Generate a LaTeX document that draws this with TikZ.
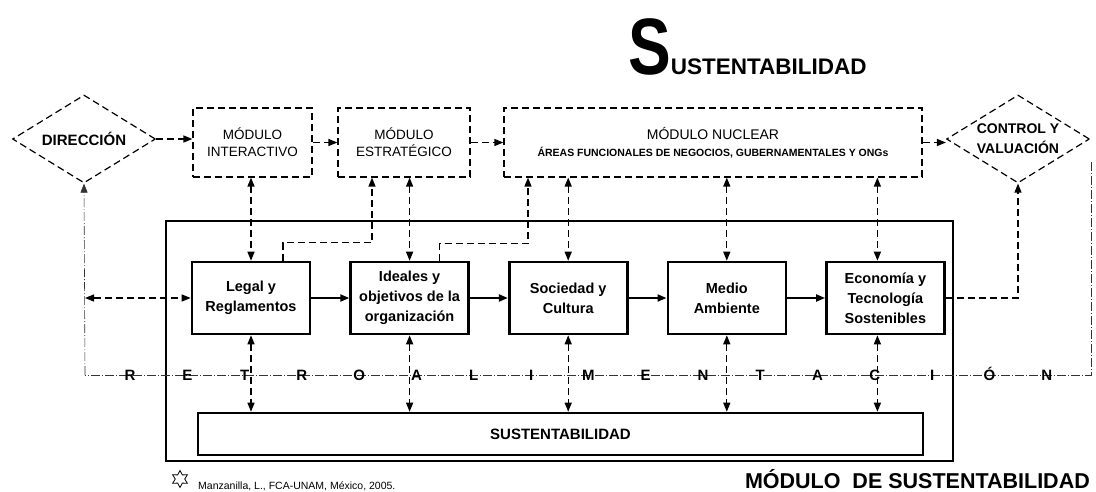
\documentclass[tikz,border=0pt]{standalone}
\usepackage{fontspec}
\setmainfont{Liberation Sans}
\usepackage{graphicx}
\usepackage{tikz}
\usetikzlibrary{arrows.meta,positioning,shapes.geometric}

\begin{document}
\begin{tikzpicture}[
    x=1pt, y=-1pt,
    box/.style={draw, line width=2.6pt, minimum width=118pt, minimum height=72pt, align=center, inner sep=2pt, font=\bfseries\fontsize{14.5}{20}\selectfont},
    mod/.style={draw, line width=1.2pt, dash pattern=on 7pt off 4pt, minimum height=69pt, align=center, font=\fontsize{13.5}{17}\selectfont},
    dmd/.style={diamond, draw, line width=1.2pt, dash pattern=on 7pt off 4pt, minimum width=143pt, minimum height=88pt, inner sep=0pt},
    dsh/.style={line width=1.3pt, dash pattern=on 7pt off 4pt},
    arr/.style={-{Triangle[length=9pt,width=7pt]}},
    darr/.style={dsh, {Triangle[length=9pt,width=7pt]}-{Triangle[length=9pt,width=7pt]}},
    flow/.style={line width=2pt, -{Triangle[length=9pt,width=7pt]}},
    retro/.style={line width=0.6pt, black!80, dash pattern=on 9pt off 2pt on 1pt off 2pt},
    letter/.style={font=\bfseries\fontsize{15}{15}\selectfont, inner sep=0pt, text height=11pt, text depth=0pt},
    node distance=38pt
  ]
  \useasboundingbox (0,0) rectangle (1096,491);

  % Title
  \node[anchor=base west, inner sep=0pt, font=\bfseries] (title) at (628,74)
    {\scalebox{0.8}[1]{\fontsize{80}{80}\selectfont S}\fontsize{22.5}{23}\selectfont USTENTABILIDAD};

  % Upper modules
  \node[dmd] (dir) at (84,139) {};
  \node[font=\bfseries\fontsize{15}{18}\selectfont] (dirtext) at (dir) {DIRECCIÓN};
  \node[mod, minimum width=119pt] (inter) at (252.5,142.5) {MÓDULO\\INTERACTIVO};
  \node[mod, minimum width=132pt] (estr) at (404,142.5) {MÓDULO\\ESTRATÉGICO};
  \node[mod, minimum width=418pt] (nuc) at (713,142.5)
    {{\fontsize{14}{20}\selectfont MÓDULO NUCLEAR}\\{\bfseries\fontsize{10.5}{12}\selectfont ÁREAS FUNCIONALES DE NEGOCIOS, GUBERNAMENTALES Y ONGs}};
  \node[dmd] (ctrl) at (1018,139) {};
  \node[align=center, font=\bfseries\fontsize{14}{20}\selectfont] (ctrltext) at (ctrl) {CONTROL Y\\VALUACIÓN};

  % Sustainability module
  \node[draw, line width=1.1pt, minimum width=787pt, minimum height=240pt, inner sep=0pt] (frame) at (559.5,341) {};
  \node[box] (legal) at (251,298) {Legal y\\Reglamentos};
  \node[box, right=of legal] (ideal) {Ideales y\\objetivos de la\\organización};
  \node[box, right=of ideal] (soc) {Sociedad y\\Cultura};
  \node[box, right=of soc] (med) {Medio\\Ambiente};
  \node[box, right=of med] (eco) {Economía y\\Tecnología\\Sostenibles};
  \node[box, minimum width=725pt, minimum height=42pt, font=\bfseries\fontsize{15}{15}\selectfont] (sus) at (560.5,434) {SUSTENTABILIDAD};
  \coordinate (ecotop) at ([xshift=-8pt]eco.north);
  \coordinate (ecobot) at ([xshift=-8pt]eco.south);

  % Feedback line
  \coordinate (rl) at (85,375);
  \coordinate (rr) at (1091,375);
  \coordinate (rt) at (1091,162);
  \draw[retro] (rt) -- (rr) -- (rl);
  \draw[retro, arr] (rl) -- (dir.south);
  \foreach \ch [count=\i from 0] in {R,E,T,R,O,A,L,I,M,E,N,T,A,C,I,Ó,N}
    \node[letter] (ret\i) at (130+57.3*\i,375) {\ch};

  % Arrows
  \draw[dsh, arr] (dir.east) -- (dir.east -| inter.west);
  \draw[dsh, arr] (inter.east) -- (estr.west);
  \draw[dsh, arr] (estr.east) -- (nuc.west);
  \draw[dsh, arr] (nuc.east) -- (nuc.east -| ctrl.west);
  \draw[darr] (legal.west -| rl) -- (legal.west);
  \draw[flow] (legal) -- (ideal);
  \draw[flow] (ideal) -- (soc);
  \draw[flow] (soc) -- (med);
  \draw[flow] (med) -- (eco);
  \draw[darr] (inter.south -| legal.north) -- (legal.north);
  \draw[darr] (estr.south -| ideal.north) -- (ideal.north);
  \draw[darr] (nuc.south -| soc.north) -- (soc.north);
  \draw[darr] (nuc.south -| med.north) -- (med.north);
  \draw[darr] (nuc.south -| ecotop) -- (ecotop);
  \draw[dsh, arr] ([xshift=32pt]legal.north) -- ++(0,-18) -| ([xshift=-32pt]estr.south);
  \draw[dsh, arr] ([xshift=30pt]ideal.north) -- ++(0,-17) -| ([xshift=-185pt]nuc.south);
  \draw[dsh, arr] (eco.east) -| (ctrl.south);
  \draw[darr] (legal.south) -- (legal.south |- sus.north);
  \draw[darr] (ideal.south) -- (ideal.south |- sus.north);
  \draw[darr] (soc.south) -- (soc.south |- sus.north);
  \draw[darr] (med.south) -- (med.south |- sus.north);
  \draw[darr] (ecobot) -- (ecobot |- sus.north);

  % Footer
  \node[star, star points=6, star point ratio=1.8, draw, line width=0.8pt, minimum size=17pt, inner sep=0pt] (logo) at (180,479) {};
  \node[anchor=base west, inner sep=0pt, font=\fontsize{10.5}{11}\selectfont] (cred) at (198,489) {Manzanilla, L., FCA-UNAM, México, 2005.};
  \node[anchor=base east, inner sep=0pt, font=\bfseries\fontsize{21.5}{22}\selectfont] (modsus) at (1090,488) {MÓDULO\ \ DE SUSTENTABILIDAD};
\end{tikzpicture}
\end{document}
